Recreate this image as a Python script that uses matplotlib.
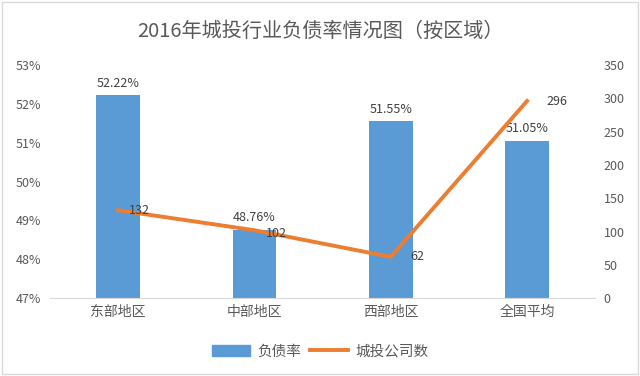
import matplotlib.pyplot as plt
import matplotlib.patches as mpatches
from matplotlib.ticker import FuncFormatter

plt.rcParams['font.family'] = ['Noto Sans CJK SC', 'DejaVu Sans']

regions = ['东部地区', '中部地区', '西部地区', '全国平均']
debt_ratio = [52.22, 48.76, 51.55, 51.05]
company_count = [132, 102, 62, 296]

blue = '#5B9BD5'
orange = '#ED7D31'
txt = '#595959'

fig = plt.figure(figsize=(6.4, 3.76), dpi=100)
ax = fig.add_axes([0.078, 0.207, 0.852, 0.62])
ax2 = ax.twinx()

x = range(len(regions))
ax.bar(x, debt_ratio, width=0.32, color=blue, zorder=2)
ax.set_ylim(47, 53)
ax.set_yticks(range(47, 54))
ax.yaxis.set_major_formatter(FuncFormatter(lambda v, p: '%d%%' % v))
ax.set_xlim(-0.5, 3.5)
ax.set_xticks(list(x))
ax.set_xticklabels(regions)
for i, v in enumerate(debt_ratio):
    ax.text(i, v + 0.15, '%.2f%%' % v, ha='center', va='bottom', fontsize=9, color='#404040')

ax2.plot(x, company_count, color=orange, lw=2.8, zorder=3)
ax2.set_ylim(0, 350)
ax2.set_yticks(range(0, 351, 50))
offsets = [(8, 0), (8, -2), (14, 0), (14, 0)]
for i, v in enumerate(company_count):
    dx, dy = offsets[i]
    ax2.annotate(str(v), (i, v), xytext=(dx, dy), textcoords='offset points',
                 ha='left', va='center', fontsize=9, color='#404040')

for a in (ax, ax2):
    for s in ['top', 'left', 'right']:
        a.spines[s].set_visible(False)
    a.spines['bottom'].set_color('#D9D9D9')
    a.tick_params(length=0, labelsize=9, labelcolor=txt, pad=6)
ax.tick_params(axis='x', labelsize=10, pad=5)
ax2.spines['bottom'].set_visible(False)

fig.suptitle('2016年城投行业负债率情况图（按区域）', y=0.945, fontsize=14.5, color=txt)

handles = [mpatches.Patch(color=blue, label='负债率'),
           plt.Line2D([], [], color=orange, lw=2.8, label='城投公司数')]
fig.legend(handles=handles, loc='center', bbox_to_anchor=(0.5, 0.065), ncol=2,
           frameon=False, fontsize=10.5, labelcolor=txt, handlelength=2.6, columnspacing=0.6,
           handletextpad=0.5)

fig.patches.append(mpatches.Rectangle((0.003, 0.005), 0.994, 0.99, transform=fig.transFigure,
                                      fill=False, edgecolor='#D9D9D9', lw=1))

fig.savefig('out.png', dpi=100)
